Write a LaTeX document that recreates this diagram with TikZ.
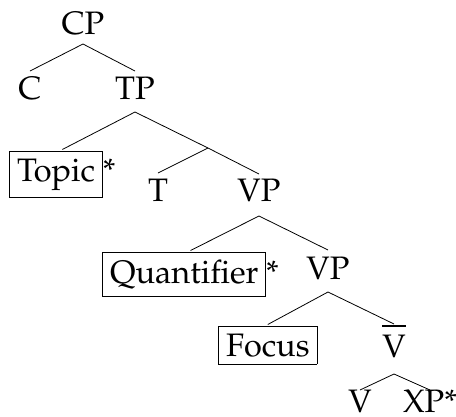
\documentclass[tikz,border=0pt]{standalone}
\usepackage[T1]{fontenc}
\renewcommand{\rmdefault}{ppl}
\setlength{\fboxsep}{7pt}
\setlength{\fboxrule}{0.8pt}
\begin{document}
\begin{tikzpicture}[x=1pt,y=-1pt,
  lbl/.style={font=\fontsize{32.5}{38}\selectfont, inner sep=0pt, anchor=base},
  boxed/.style={lbl, anchor=base west},
  edge/.style={line width=0.8pt}]
\useasboundingbox (0,0) rectangle (456,416);
% labels
\node[lbl] (CP) at (83,34) {CP};
\node[lbl] (C) at (30,99) {C};
\node[lbl] (TP) at (135,99) {TP};
\node[boxed] (topic) at (9,181) {\fbox{Topic}*};
\coordinate (tbar) at (208,148);
\node[lbl] (T) at (158,201) {T};
\node[lbl] (VP) at (259,201) {VP};
\node[boxed] (quant) at (102,283) {\fbox{Quantifier}*};
\node[lbl] (VP2) at (328,279) {VP};
\node[boxed] (focus) at (218,356) {\fbox{Focus}};
\node[lbl] (Vb) at (394,357) {V};
\node[lbl] (V) at (360,412) {V};
\node[lbl] (XP) at (430,412) {XP*};
% bar over V
\draw[line width=1.3pt] ([yshift=31pt]Vb.base west) -- ([yshift=31pt]Vb.base east);
% connectors
\draw[edge] ([yshift=28pt]C.base) -- ([yshift=-10pt]CP.base) -- ([yshift=28pt]TP.base);
\draw[edge] ([yshift=1pt]topic.north) -- ([yshift=-13pt]TP.base) -- (tbar) -- ([yshift=27pt]VP.base);
\draw[edge] (tbar) -- ([yshift=28pt]T.base);
\draw[edge] ([yshift=1pt]quant.north) -- ([yshift=-15pt]VP.base) -- ([yshift=29pt]VP2.base);
\draw[edge] ([yshift=1pt]focus.north) -- ([yshift=-13pt]VP2.base) -- ([yshift=33pt]Vb.base);
\draw[edge] ([yshift=22pt]V.base) -- ([yshift=-17pt]Vb.base) -- ([yshift=22pt]XP.base);
\end{tikzpicture}
\end{document}
